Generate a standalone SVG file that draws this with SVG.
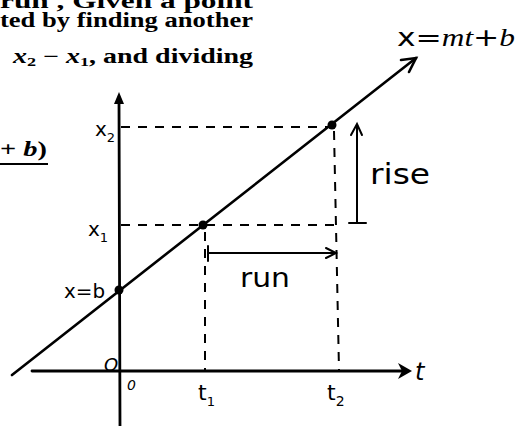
<svg xmlns="http://www.w3.org/2000/svg" width="516" height="426" viewBox="0 0 516 426">
<style>
.book{font-family:"Liberation Serif","DejaVu Serif",serif;font-weight:bold;font-size:20px;fill:#000}
.math{font-family:"Liberation Serif","DejaVu Serif",serif;font-style:italic;font-weight:bold;fill:#000}
.hand{font-family:"DejaVu Sans","Liberation Sans",sans-serif;fill:#000}
.ax{stroke:#000;stroke-width:2.8;fill:none;stroke-linecap:round}
.ln{stroke:#000;stroke-width:2.6;fill:none;stroke-linecap:round}
.dash{stroke:#000;stroke-width:2;fill:none;stroke-dasharray:9 8}
.thin{stroke:#000;stroke-width:2;fill:none;stroke-linecap:round}
.pt{fill:#000}
</style>
<rect width="516" height="426" fill="#fff"/>
<g id="caption">
<text class="book" x="0" y="8" textLength="253" lengthAdjust="spacingAndGlyphs">run ,  Given a point</text>
<text class="book" x="0" y="27" textLength="253" lengthAdjust="spacingAndGlyphs">ted by finding another</text>
<text class="book" x="13" y="63" textLength="240" lengthAdjust="spacingAndGlyphs"><tspan class="math">x</tspan><tspan font-size="13" dy="3">2</tspan><tspan dy="-3"> − </tspan><tspan class="math">x</tspan><tspan font-size="13" dy="3">1</tspan><tspan dy="-3">, and dividing</tspan></text>
<text class="book" x="0" y="156" font-size="26" textLength="47" lengthAdjust="spacingAndGlyphs"><tspan>+ </tspan><tspan class="math">b</tspan><tspan>)</tspan></text>
<line x1="0" y1="164" x2="48" y2="164" stroke="#000" stroke-width="2"/>
</g>
<g id="connectors">
<line class="dash" x1="121" y1="127" x2="330" y2="127"/>
<line class="dash" x1="334" y1="131" x2="339" y2="370"/>
<line class="dash" x1="121" y1="225" x2="338" y2="225"/>
<line class="dash" x1="205" y1="232" x2="205" y2="370"/>
<line class="ln" x1="12" y1="375" x2="416" y2="58"/>
<path class="ln" d="M401 60 L416 58 L409 72"/>
<line class="thin" x1="357" y1="223" x2="357" y2="126"/>
<line class="thin" x1="349" y1="223" x2="366" y2="223"/>
<path class="thin" d="M351 135 L357 124 L362 135"/>
<line class="thin" x1="208" y1="253" x2="335" y2="253"/>
<line class="thin" x1="208" y1="246" x2="208" y2="261"/>
<path class="thin" d="M326 248 L336 253 L326 258"/>
</g>
<g id="t-axis">
<line class="ax" x1="32" y1="371" x2="404" y2="371"/>
<path d="M398 363 L412 371 L398 379 L402 371 Z" fill="#000"/>
<text class="hand" x="415" y="380" font-size="24" font-style="italic">t</text>
</g>
<g id="x-axis">
<line class="ax" x1="119" y1="100" x2="120" y2="426"/>
<path d="M114 104 L119 92 L124 104 Z" fill="#000"/>
</g>
<g id="point-b">
<circle class="pt" cx="119" cy="290" r="4.5"/>
<text class="hand" x="64" y="298" font-size="20" textLength="41" lengthAdjust="spacingAndGlyphs">x=b</text>
</g>
<g id="point-1">
<circle class="pt" cx="203" cy="225" r="4.5"/>
<text class="hand" x="88" y="236" font-size="20">x<tspan font-size="13" dy="6">1</tspan></text>
</g>
<g id="point-2">
<circle class="pt" cx="332" cy="125" r="4.5"/>
<text class="hand" x="95" y="136" font-size="20">x<tspan font-size="13" dy="6">2</tspan></text>
</g>
<g id="labels">
<text class="hand" x="397" y="46" font-size="25" textLength="118" lengthAdjust="spacingAndGlyphs">x=<tspan font-family="Liberation Serif,serif" font-style="italic">mt</tspan>+<tspan font-family="Liberation Serif,serif" font-style="italic">b</tspan></text>
<text class="hand" x="370" y="184" font-size="28" textLength="60" lengthAdjust="spacingAndGlyphs">rise</text>
<text class="hand" x="240" y="287" font-size="26" textLength="50" lengthAdjust="spacingAndGlyphs">run</text>
<text class="hand" x="104" y="371" font-size="18" font-style="italic">O</text>
<text class="hand" x="127" y="390" font-size="14" font-style="italic">0</text>
<text class="hand" x="198" y="400" font-size="22">t<tspan font-size="13" dy="6">1</tspan></text>
<text class="hand" x="327" y="400" font-size="22">t<tspan font-size="14" dy="6">2</tspan></text>
</g>
</svg>
